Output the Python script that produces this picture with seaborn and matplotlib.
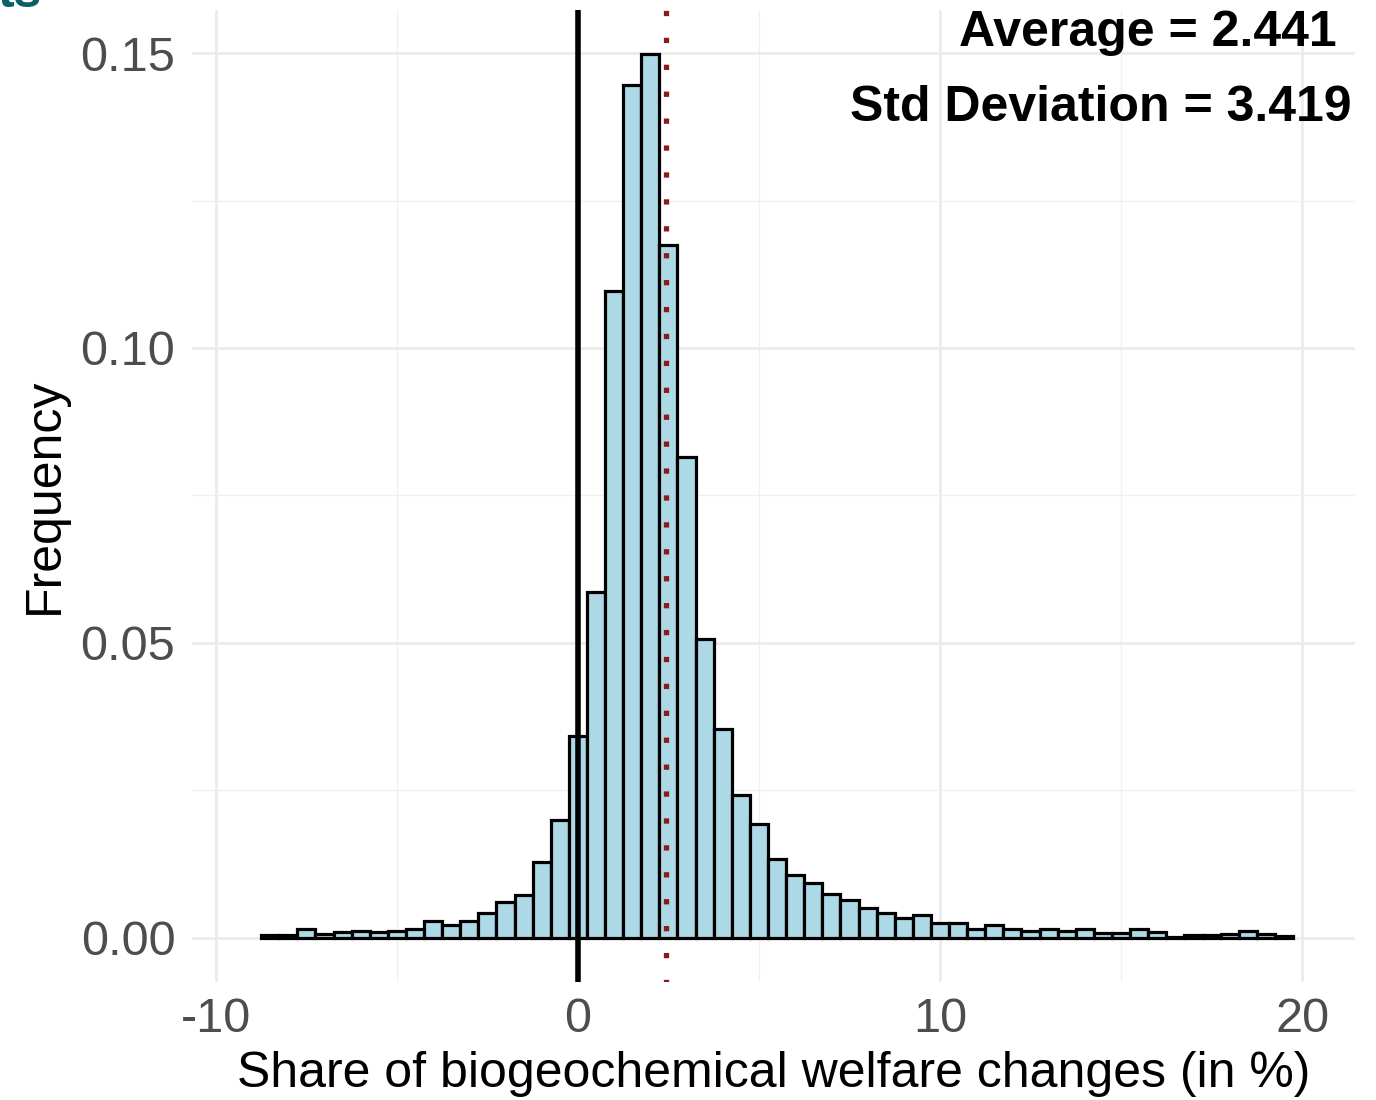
import numpy as np
import pandas as pd
import matplotlib
matplotlib.use("Agg")
import matplotlib.pyplot as plt
from matplotlib.ticker import FixedLocator
import seaborn as sns

# Histogram of biogeochemical welfare-change shares (bin width 0.5, centred on multiples of 0.5)
bin_centers = np.arange(-8.5, 19.51, 0.5)
frequency = [
    0.0005, 0.0005, 0.0014, 0.0006, 0.0010, 0.0011, 0.0010, 0.0012,   # -8.5 .. -5.0
    0.0015, 0.0028, 0.0022, 0.0029, 0.0042, 0.0060, 0.0072, 0.0129,   # -4.5 .. -1.0
    0.0200, 0.0342, 0.0586, 0.1097, 0.1446, 0.1498, 0.1175, 0.0815,   # -0.5 .. 3.0
    0.0507, 0.0354, 0.0242, 0.0192, 0.0134, 0.0106, 0.0092, 0.0075,   # 3.5 .. 7.0
    0.0064, 0.0051, 0.0042, 0.0034, 0.0039, 0.0025, 0.0025, 0.0015,   # 7.5 .. 11.0
    0.0022, 0.0015, 0.0011, 0.0015, 0.0011, 0.0014, 0.0008, 0.0008,   # 11.5 .. 15.0
    0.0015, 0.0010, 0.0002, 0.0005, 0.0005, 0.0007, 0.0012, 0.0007,   # 15.5 .. 19.0
    0.0003,                                                            # 19.5
]
average = 2.441
std_dev = 3.419

x_ticks = [-10, 0, 10, 20]
x_tick_labels = ["-10", "0", "10", "20"]
y_ticks = [0.00, 0.05, 0.10, 0.15]
y_tick_labels = ["0.00", "0.05", "0.10", "0.15"]

df = pd.DataFrame({"share": bin_centers, "freq": frequency})
bin_width = 0.5
bin_range = (float(bin_centers[0] - bin_width / 2), float(bin_centers[-1] + bin_width / 2))

sns.set_style("white")
plt.rcParams["font.family"] = ["Liberation Sans", "DejaVu Sans"]

fig = plt.figure(figsize=(13.76, 11), dpi=100)
ax = fig.add_axes([0.1395, 0.1073, 0.8452, 0.8836])

sns.histplot(data=df, x="share", weights="freq", binwidth=bin_width, binrange=bin_range,
             stat="count", color="#ADD8E6", edgecolor="black", linewidth=2.3,
             alpha=1, ax=ax)

# reference lines: zero and the mean
ax.axvline(0, color="black", lw=4.0, zorder=3)
ax.axvline(average, color="#8B1A1A", lw=3.8, linestyle=(0.5, (1, 4.1)),
           dash_capstyle="butt", zorder=4)

ax.set_xlim(-10.66, 21.46)
ax.set_ylim(-0.0075, 0.1573)

ax.xaxis.set_major_locator(FixedLocator(x_ticks))
ax.set_xticklabels(x_tick_labels)
ax.xaxis.set_minor_locator(FixedLocator([-5, 5, 15]))
ax.yaxis.set_major_locator(FixedLocator(y_ticks))
ax.set_yticklabels(y_tick_labels)
ax.yaxis.set_minor_locator(FixedLocator([0.025, 0.075, 0.125]))

ax.grid(which="major", color="#EBEBEB", lw=2.0)
ax.grid(which="minor", color="#F0F0F0", lw=1.0)
ax.set_axisbelow(True)
for s in ax.spines.values():
    s.set_visible(False)

ax.tick_params(axis="both", which="both", length=0, labelsize=35, labelcolor="#4D4D4D")
ax.tick_params(axis="x", pad=11)
ax.tick_params(axis="y", pad=12)

ax.set_xlabel("Share of biogeochemical welfare changes (in %)", fontsize=36, color="black")
ax.set_ylabel("Frequency", fontsize=36, color="black")
ax.xaxis.set_label_coords(0.5, -0.0945)
ax.xaxis.label.set_verticalalignment("center")
ax.yaxis.set_label_coords(-0.1264, 0.5)
ax.yaxis.label.set_verticalalignment("center")

ax.text(15.73, 0.1512, f"Average = {average:.3f}", fontsize=36, fontweight="bold",
        ha="center", va="baseline", color="black")
ax.text(14.45, 0.1385, f"Std Deviation = {std_dev:.3f}", fontsize=36, fontweight="bold",
        ha="center", va="baseline", color="black")

# tail of a heading from the page above
fig.text(-0.002, 1 - 7 / 1100, "ts", fontsize=36, fontweight="bold",
         color="#0B5F68", ha="left", va="baseline")

fig.savefig("out.png", dpi=100)
